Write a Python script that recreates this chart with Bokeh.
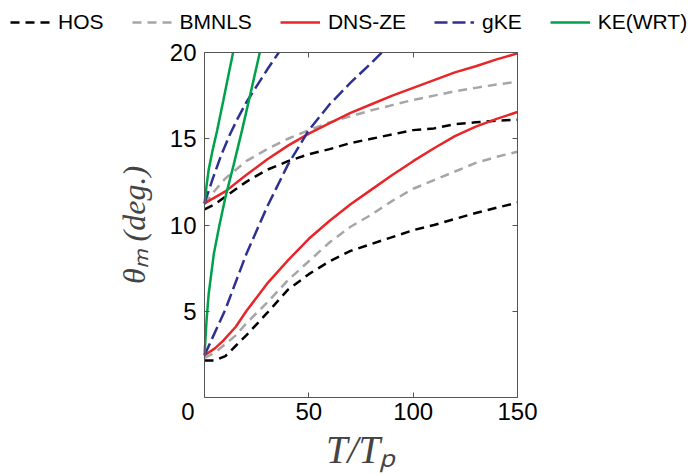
from bokeh.plotting import figure
from bokeh.models import Range1d, LinearAxis, Legend, LegendItem, FixedTicker
from bokeh.embed import file_html
from bokeh.resources import INLINE

# ---- data ----
models = ["HOS", "BMNLS", "DNS-ZE", "gKE", "KE(WRT)"]

hos_up_t = [0, 5, 10, 20, 30, 40, 50, 60, 70, 80, 90, 100, 110, 120, 130, 140, 150]
hos_up_v = [10.9, 11.2, 11.65, 12.5, 13.2, 13.7, 14.1, 14.4, 14.75, 15.0, 15.25, 15.5, 15.6, 15.85, 15.95, 16.05, 16.1]
hos_lo_t = [0, 5, 10, 15, 20, 30, 40, 50, 60, 70, 80, 90, 100, 110, 120, 130, 140, 150]
hos_lo_v = [2.15, 2.15, 2.4, 3.0, 3.6, 4.9, 6.25, 7.15, 7.9, 8.5, 8.9, 9.3, 9.7, 10.0, 10.35, 10.7, 11.0, 11.3]

bm_up_t = [0, 5, 10, 20, 30, 40, 50, 60, 70, 80, 90, 100, 110, 120, 130, 140, 150]
bm_up_v = [11.2, 12.0, 12.7, 13.7, 14.4, 15.0, 15.5, 15.95, 16.3, 16.65, 16.95, 17.25, 17.5, 17.75, 17.95, 18.15, 18.3]
bm_lo_t = [0, 5, 10, 15, 20, 30, 40, 50, 60, 70, 80, 90, 100, 110, 120, 130, 140, 150]
bm_lo_v = [2.3, 2.6, 3.1, 3.6, 4.3, 5.5, 6.8, 7.9, 9.0, 9.9, 10.6, 11.4, 12.1, 12.6, 13.1, 13.6, 13.95, 14.25]

dns_up_t = [0, 5, 10, 20, 30, 40, 50, 60, 70, 80, 90, 100, 110, 120, 130, 140, 150]
dns_up_v = [11.25, 11.6, 11.95, 12.9, 13.8, 14.6, 15.3, 15.9, 16.5, 17.0, 17.5, 17.95, 18.4, 18.85, 19.2, 19.6, 19.95]
dns_lo_t = [0, 5, 9, 15, 20, 30, 40, 50, 60, 70, 80, 90, 100, 110, 120, 130, 140, 150]
dns_lo_v = [2.45, 2.85, 3.3, 4.1, 5.0, 6.6, 7.95, 9.2, 10.25, 11.2, 12.05, 12.9, 13.7, 14.45, 15.15, 15.7, 16.15, 16.55]

gke_up_t = [0, 4, 8, 12, 16, 20, 25, 30, 35.6]
gke_up_v = [11.25, 12.7, 14.05, 15.2, 16.2, 17.1, 18.05, 19.0, 20.0]
gke_lo_t = [0, 10, 20, 30, 40, 50, 60, 70, 80, 85]
gke_lo_v = [2.45, 5.1, 8.3, 11.05, 13.5, 15.5, 17.0, 18.25, 19.4, 20.0]

ke_up_t = [0, 1, 2, 4, 6, 9, 12, 13.7]
ke_up_v = [11.25, 12.3, 13.2, 14.4, 15.45, 17.2, 19.0, 20.0]
ke_lo_t = [0, 1, 2, 4.5, 7, 10, 14, 18, 22, 26.5]
ke_lo_v = [2.45, 4.5, 6.0, 8.35, 9.9, 11.6, 13.5, 15.5, 17.6, 20.0]

x_ticks = [0, 50, 100, 150]
y_ticks = [5, 10, 15, 20]
x_lim = (0, 150)
y_lim = (0, 20)

series = {
    "HOS": [(hos_up_t, hos_up_v), (hos_lo_t, hos_lo_v)],
    "BMNLS": [(bm_up_t, bm_up_v), (bm_lo_t, bm_lo_v)],
    "DNS-ZE": [(dns_up_t, dns_up_v), (dns_lo_t, dns_lo_v)],
    "gKE": [(gke_up_t, gke_up_v), (gke_lo_t, gke_lo_v)],
    "KE(WRT)": [(ke_up_t, ke_up_v), (ke_lo_t, ke_lo_v)],
}
styles = {
    "HOS": dict(line_color="black", line_dash="9 6"),
    "BMNLS": dict(line_color="#a6a6a6", line_dash="9 6"),
    "DNS-ZE": dict(line_color="#e8262a"),
    "gKE": dict(line_color="#2e3192", line_dash="13 5"),
    "KE(WRT)": dict(line_color="#00a14b"),
}

# ---- layout constants (pixels) ----
W, H = 693, 473
BOX_L, BOX_R, BOX_T, BOX_B = 204, 517, 52, 397
tick_font = "Liberation Sans"
frame_col = "#555555"

# the frame covers the whole canvas; the data box is drawn by axes at fixed locations
sx = (BOX_R - BOX_L) / (x_lim[1] - x_lim[0])
sy = (BOX_B - BOX_T) / (y_lim[1] - y_lim[0])
x_range = Range1d(x_lim[0] - BOX_L / sx, x_lim[1] + (W - BOX_R) / sx)
y_range = Range1d(y_lim[0] - (H - BOX_B) / sy, y_lim[1] + BOX_T / sy)

p = figure(width=W, height=H, output_backend="svg", toolbar_location=None,
           x_range=x_range, y_range=y_range,
           x_axis_type=None, y_axis_type=None,
           min_border_left=0, min_border_right=0, min_border_top=0, min_border_bottom=0)
p.grid.visible = False
p.outline_line_color = None
p.background_fill_color = "white"
p.border_fill_color = "white"


def make_axis(ticks, loc, bounds, labels=True):
    ax = LinearAxis(ticker=FixedTicker(ticks=ticks), fixed_location=loc, bounds=bounds)
    ax.axis_line_color = frame_col
    ax.major_tick_line_color = frame_col
    ax.major_tick_in = 5
    ax.major_tick_out = 0
    ax.minor_tick_line_color = None
    if labels:
        ax.major_label_text_font = tick_font
        ax.major_label_text_font_size = "24px"
        ax.major_label_text_color = "black"
    else:
        ax.major_label_overrides = {t: "" for t in ticks}
        ax.major_label_text_font_size = "1px"
        ax.major_label_standoff = 0
    return ax


xb = make_axis(x_ticks, y_lim[0], x_lim)
xb.major_label_overrides = {0: "0" + "\u00a0" * 5}
xb.major_label_standoff = 0
xb.axis_label = "T/T\u209a"
xb.axis_label_text_font = "Liberation Serif"
xb.axis_label_text_font_style = "italic"
xb.axis_label_text_font_size = "39px"
xb.axis_label_standoff = 0
p.add_layout(xb, "below")

yl = make_axis(y_ticks, x_lim[0], y_lim)
yl.major_label_standoff = 8
yl.axis_label = "\u03b8\u2098 (deg.)"
yl.axis_label_text_font = "Liberation Serif"
yl.axis_label_text_font_style = "italic"
yl.axis_label_text_font_size = "32px"
yl.axis_label_standoff = 15
p.add_layout(yl, "left")

p.add_layout(make_axis(x_ticks, y_lim[1], x_lim, labels=False), "above")
p.add_layout(make_axis(y_ticks, x_lim[1], y_lim, labels=False), "right")

items = []
for m in models:
    rs = [p.line(t, v, line_width=2.5, **styles[m]) for t, v in series[m]]
    items.append(LegendItem(label=m, renderers=[rs[0]]))

legend = Legend(items=items, orientation="horizontal", location=(10, H - 34),
                glyph_width=40, glyph_height=20, label_standoff=8, spacing=28,
                padding=0, margin=0, border_line_color=None, background_fill_alpha=0,
                label_text_font=tick_font, label_text_font_size="21px",
                label_text_color="black", label_height=20)
p.add_layout(legend, "center")

open("out.html", "w").write(file_html(p, INLINE))
